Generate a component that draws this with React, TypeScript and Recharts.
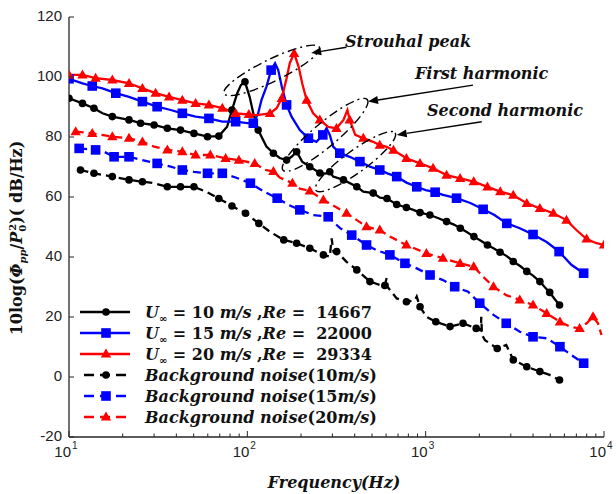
import React from "react";
import { LineChart, Line, XAxis, YAxis } from "recharts";

// Pressure spectra, [frequency (Hz), 10log(Φpp/P0²) (dB/Hz)]
const u10: [number, number][] = [
  [10, 92.9], [11.9, 91.2], [13.8, 89.6], [15.4, 87.9], [17.5, 86.8], [21.7, 85.7], [25.2, 84.6],
  [30, 84], [35.6, 82.9], [42.2, 82.3], [50.2, 81.2], [59.8, 80.1], [69.2, 80.3], [77, 83.4],
  [82, 89], [87.8, 94.6], [92, 97.3], [97, 98.4], [103, 93.4], [108, 87.9], [115, 82.3],
  [128, 76.8], [140, 74.6], [152, 73], [166, 72.3], [177, 73.4], [189, 75.1], [203, 71.8],
  [224, 70.1], [255, 68], [275, 67.8], [290, 68.4], [303, 66.8], [346, 65.7], [411, 63.4],
  [447, 61.8], [508, 61.3], [554, 59.8], [607, 59.5], [688, 57.5], [780, 56.5], [853, 55.7],
  [930, 54.8], [1056, 54], [1180, 52.9], [1310, 51.8], [1440, 50.8], [1565, 49.6], [1700, 48.3],
  [1864, 46.8], [2040, 45.4], [2221, 44], [2400, 42.9], [2614, 41.6], [2850, 40.3], [3100, 38.5],
  [3400, 36.9], [3690, 35.2], [4000, 33.8], [4370, 31.8], [4660, 29.9], [4960, 28.2], [5300, 25.9],
  [5630, 24],
];

const u15: [number, number][] = [
  [10, 99.4], [11.9, 97.9], [13.5, 97], [15.4, 96.2], [18.3, 94.6], [21.7, 93.4], [25.8, 91.8],
  [31.2, 90.1], [37.2, 89], [43.2, 87.9], [51.3, 86.8], [60.9, 86.2], [72.4, 85.1], [86, 85.1],
  [100, 84.6], [108, 84.6], [115, 87.9], [120, 92.3], [128, 96.8], [136, 102.3], [143, 104.6],
  [149, 102.3], [156, 96.8], [166, 90.7], [177, 86.8], [197, 82.3], [220, 79.6], [244, 78.4],
  [265, 80.7], [278, 82.9], [290, 80.7], [303, 76.8], [330, 74.6], [375, 73.4], [428, 71.8],
  [487, 70.1], [553, 69], [615, 67.8], [688, 66.8], [780, 64.8], [891, 63.4], [1000, 62.3],
  [1130, 61.6], [1250, 60.7], [1490, 59.6], [1780, 58], [2100, 55.9], [2430, 54], [2850, 51.2],
  [3370, 49.6], [4000, 47.5], [4770, 45], [5600, 41.8], [6560, 37.4], [7690, 34.6],
];

const u20: [number, number][] = [
  [10, 100.7], [11.9, 100.7], [14.1, 99.6], [17.5, 99], [21.7, 97.9], [25.8, 96.2], [30.6, 94.6],
  [36.4, 93.4], [43.2, 92.3], [51.3, 91.2], [60.9, 90.7], [72.4, 89.6], [86, 87.9], [102, 87.5],
  [113, 87.3], [134, 87.9], [146, 89.6], [156, 92.9], [166, 99.6], [173, 104.6], [183, 107.9],
  [194, 103.4], [203, 97.9], [215, 92.3], [234, 87.9], [255, 85.7], [284, 83.4], [316, 82.9],
  [346, 85.7], [364, 89], [375, 85.7], [403, 80.7], [447, 79.6], [507, 78.4], [553, 77.3],
  [600, 76.8], [660, 75.6], [780, 72.9], [930, 71.2], [1100, 69.6], [1310, 67.3], [1560, 66.2],
  [1860, 65.1], [2220, 63.4], [2620, 61.8], [3100, 60.6], [3690, 57.9], [4370, 56.2], [5200, 54.6],
  [6160, 52.3], [7000, 49], [7990, 46], [9080, 44.6], [10000, 44],
];

const bg10: [number, number][] = [
  [11.6, 69], [13.8, 67.9], [17.5, 66.8], [21.7, 65.7], [25.8, 65.1], [30, 64.6], [35.6, 63.4],
  [42.2, 63.4], [50.2, 63.4], [58.5, 61.8], [69.2, 59.5], [82, 57], [97.7, 54.6], [116, 51.2],
  [134, 48.4], [160, 45.7], [189, 44.6], [224, 42.9], [267, 40.7], [290, 40.1], [297, 46.2],
  [304, 41.8], [317, 41.8], [360, 38.4], [411, 35.7], [487, 31.8], [553, 30.7], [590, 30.5],
  [604, 33], [612, 30], [688, 26.2], [780, 25.1], [870, 25.6], [891, 26.8], [930, 23.4],
  [1010, 20.1], [1140, 18.4], [1370, 16.8], [1620, 17.9], [1920, 16.2], [2040, 15.5], [2050, 20.1],
  [2070, 14], [2150, 12.3], [2520, 9.5], [2830, 10.7], [3100, 5.7], [3690, 3.4], [4370, 1.8],
  [4960, 0.7], [5630, -1],
];

const bg15: [number, number][] = [
  [11.4, 76.2], [14.1, 75.7], [15.7, 75.1], [17.9, 73.4], [21.7, 73.4], [25.8, 72.3], [31.2, 71.2],
  [37.2, 70.1], [43.2, 69], [50.2, 68.4], [59.8, 67.9], [72.4, 67.9], [86, 66.5], [104, 64.6],
  [124, 61.8], [147, 59.6], [171, 57.3], [197, 55.7], [234, 54], [284, 53.4], [331, 49.6],
  [385, 47.3], [466, 44], [530, 42.3], [630, 40.7], [765, 37.9], [891, 36.2], [1058, 34],
  [1250, 32.3], [1455, 30.1], [1730, 28.4], [2010, 24.6], [2400, 20.7], [2830, 17.9], [3370, 15.1],
  [4000, 13.4], [4770, 12.9], [5660, 10.1], [6560, 7.3], [7690, 4.6],
];

const bg20: [number, number][] = [
  [10.9, 81.8], [13.5, 81.2], [17.5, 80.1], [21.7, 79.6], [25.8, 78.4], [30, 76.8], [35.6, 75.7],
  [43.2, 75.1], [51.3, 74], [62, 74], [75.6, 72.9], [89.7, 72.3], [110, 71.2], [126, 69],
  [140, 68.5], [152, 66.5], [179, 64.6], [197, 62.8], [224, 62], [267, 59], [360, 54.6],
  [466, 50.1], [553, 49], [630, 46.8], [780, 44], [1010, 41.2], [1250, 39.6], [1560, 37.9],
  [1860, 36.8], [2100, 33.4], [2400, 30.1], [2830, 27.3], [3370, 25.7], [4000, 24], [4770, 21.2],
  [5660, 18.4], [6430, 16.8], [7300, 16.2], [7990, 17.9], [8680, 20.1], [9250, 17.9], [9680, 14],
];

const decadeTicks = [10, 100, 1000, 10000];
const minorSteps = [2, 3, 4, 5, 6, 7, 8, 9];
const yTicks = [-20, 0, 20, 40, 60, 80, 100, 120];

const xTicks = decadeTicks.flatMap((d, i) =>
  i < decadeTicks.length - 1 ? [d, ...minorSteps.map((m) => d * m)] : [d]
);

// chart geometry (margins + axis sizes fix the plot box)
const W = 616;
const H = 494;
const MARGIN = { top: 17, right: 12, left: 0, bottom: 0 };
const Y_AXIS_W = 69;
const X_AXIS_H = 57;
const PLOT = {
  left: MARGIN.left + Y_AXIS_W,
  right: W - MARGIN.right,
  top: MARGIN.top,
  bottom: H - MARGIN.bottom - X_AXIS_H,
};
const F_DOMAIN: [number, number] = [10, 10000];
const DB_DOMAIN: [number, number] = [-20, 120];

const xPx = (f: number) =>
  PLOT.left +
  ((PLOT.right - PLOT.left) * (Math.log10(f) - Math.log10(F_DOMAIN[0]))) /
    (Math.log10(F_DOMAIN[1]) - Math.log10(F_DOMAIN[0]));
const yPx = (v: number) =>
  PLOT.top + ((PLOT.bottom - PLOT.top) * (DB_DOMAIN[1] - v)) / (DB_DOMAIN[1] - DB_DOMAIN[0]);

const AXIS = "#262626";
const SERIF = "'DejaVu Serif', serif";
const SANS = "'Liberation Sans', Arial, sans-serif";

type Shape = "circle" | "square" | "triangle";

function Marker({ shape, color, x, y }: { shape: Shape; color: string; x: number; y: number }) {
  if (shape === "circle") return <circle cx={x} cy={y} r={3.8} fill={color} />;
  if (shape === "square") return <rect x={x - 4.8} y={y - 4.8} width={9.6} height={9.6} fill={color} />;
  return <polygon points={`${x},${y - 5.4} ${x + 5.2},${y + 3.6} ${x - 5.2},${y + 3.6}`} fill={color} />;
}

// thin out markers so they sit roughly every `gap` px along x
function pickMarkers(data: [number, number][], gap: number) {
  const marks = new Set<number>();
  let last = -Infinity;
  data.forEach(([f], i) => {
    const px = xPx(f);
    if (px - last >= gap) {
      marks.add(i);
      last = px;
    }
  });
  return marks;
}

const series = [
  { id: "u10", data: u10, color: "#000000", shape: "circle" as Shape, dashed: false, gap: 9 },
  { id: "u15", data: u15, color: "#0000FF", shape: "square" as Shape, dashed: false, gap: 14 },
  { id: "u20", data: u20, color: "#FF0000", shape: "triangle" as Shape, dashed: false, gap: 11 },
  { id: "bg10", data: bg10, color: "#000000", shape: "circle" as Shape, dashed: true, gap: 12 },
  { id: "bg15", data: bg15, color: "#0000FF", shape: "square" as Shape, dashed: true, gap: 14 },
  { id: "bg20", data: bg20, color: "#FF0000", shape: "triangle" as Shape, dashed: true, gap: 13 },
];

const BottomTick = (p: any) => {
  const v = p.payload.value;
  const major = decadeTicks.includes(v);
  return (
    <g>
      <line x1={p.x} x2={p.x} y1={p.y} y2={p.y - (major ? 6 : 3.5)} stroke={AXIS} strokeWidth={1} />
      {major && (
        <text x={p.x + 2} y={p.y + 20} textAnchor="end" fontFamily={SANS} fontSize={15} fill="#222">
          10
        </text>
      )}
      {major && (
        <text x={p.x + 3} y={p.y + 12} fontFamily={SANS} fontSize={10} fill="#222">
          {Math.round(Math.log10(v))}
        </text>
      )}
    </g>
  );
};

const TopTick = (p: any) => {
  const major = decadeTicks.includes(p.payload.value);
  return <line x1={p.x} x2={p.x} y1={p.y} y2={p.y + (major ? 6 : 3.5)} stroke={AXIS} strokeWidth={1} />;
};

const LeftTick = (p: any) => (
  <g>
    <line x1={p.x} x2={p.x + 5} y1={p.y} y2={p.y} stroke={AXIS} strokeWidth={1} />
    <text x={p.x - 7} y={p.y + 4} textAnchor="end" fontFamily={SANS} fontSize={15} fill="#222">
      {p.payload.value}
    </text>
  </g>
);

const RightTick = (p: any) => (
  <line x1={p.x} x2={p.x - 5} y1={p.y} y2={p.y} stroke={AXIS} strokeWidth={1} />
);

// legend rows
const legendRows = [
  { id: "u10", speed: "10", re: "14667" },
  { id: "u15", speed: "15", re: "22000" },
  { id: "u20", speed: "20", re: "29334" },
  { id: "bg10", speed: "10" },
  { id: "bg15", speed: "15" },
  { id: "bg20", speed: "20" },
];

// callouts in data coordinates: [Hz, dB]
const callouts = [
  {
    text: "Strouhal peak",
    at: [353, 110], tail: [360, 109.9], tip: [228, 108],
    ring: { c: [137, 102.2], rx: 53, ry: 11, angle: -26 },
  },
  {
    text: "First harmonic",
    at: [871, 99.3], tail: [1843, 97.3], tip: [475, 91.8],
    ring: { c: [273, 80.7], rx: 55, ry: 12, angle: -40 },
  },
  {
    text: "Second harmonic",
    at: [1018, 87], tail: [2062, 85.1], tip: [688, 80.7],
    ring: { c: [404, 71.8], rx: 49, ry: 11, angle: -36 },
  },
];

function Arrow({ x1, y1, x2, y2 }: { x1: number; y1: number; x2: number; y2: number }) {
  const a = Math.atan2(y2 - y1, x2 - x1);
  const len = 10;
  const half = 4;
  const bx = x2 - len * Math.cos(a);
  const by = y2 - len * Math.sin(a);
  const nx = -Math.sin(a) * half;
  const ny = Math.cos(a) * half;
  return (
    <g>
      <line x1={x1} y1={y1} x2={bx} y2={by} stroke="#000" strokeWidth={1.4} />
      <polygon points={`${x2},${y2} ${bx + nx},${by + ny} ${bx - nx},${by - ny}`} fill="#000" />
    </g>
  );
}

function Overlay() {
  const rowY0 = 312;
  const rowStep = 21;
  return (
    <svg
      width={W}
      height={H}
      style={{ position: "absolute", left: 0, top: 0, pointerEvents: "none" }}
    >
      {/* y axis title */}
      <text
        transform={`translate(22, 238) rotate(-90)`}
        textAnchor="middle"
        fontFamily={SERIF}
        fontWeight="bold"
        fontSize={16}
        fill="#111"
        style={{ whiteSpace: "pre" }}
      >
        <tspan>10log</tspan>
        <tspan>(</tspan>
        <tspan fontStyle="italic">Φ</tspan>
        <tspan fontStyle="italic" fontSize={10} dy={4}>pp</tspan>
        <tspan dy={-4}>/</tspan>
        <tspan fontStyle="italic">P</tspan>
        <tspan fontSize={10} dy={4}>0</tspan>
        <tspan fontSize={10} dx={-6} dy={-10}>2</tspan>
        <tspan dy={6}>)( dB/Hz)</tspan>
      </text>

      {/* x axis title */}
      <text
        x={334}
        y={488}
        textAnchor="middle"
        fontFamily={SERIF}
        fontWeight="bold"
        fontStyle="italic"
        fontSize={16}
        fill="#111"
      >
        Frequency(Hz)
      </text>

      {/* callouts */}
      {callouts.map((c) => {
        const cx = xPx(c.ring.c[0]);
        const cy = yPx(c.ring.c[1]);
        return (
          <g key={c.text}>
            <ellipse
              cx={cx}
              cy={cy}
              rx={c.ring.rx}
              ry={c.ring.ry}
              transform={`rotate(${c.ring.angle} ${cx} ${cy})`}
              fill="none"
              stroke="#000"
              strokeWidth={1.4}
              strokeDasharray="9 4 2 4"
            />
            <Arrow x1={xPx(c.tail[0])} y1={yPx(c.tail[1])} x2={xPx(c.tip[0])} y2={yPx(c.tip[1])} />
            <text
              x={xPx(c.at[0])}
              y={yPx(c.at[1])}
              fontFamily={SERIF}
              fontWeight="bold"
              fontStyle="italic"
              fontSize={16}
              fill="#111"
            >
              {c.text}
            </text>
          </g>
        );
      })}

      {/* legend */}
      {legendRows.map((row, i) => {
        const s = series.find((q) => q.id === row.id)!;
        const y = rowY0 + i * rowStep;
        return (
          <g key={row.id}>
            <line
              x1={s.dashed ? 84 : 80}
              x2={130}
              y1={y}
              y2={y}
              stroke={s.color}
              strokeWidth={2.4}
              strokeDasharray={s.dashed ? "10 6" : undefined}
            />
            <Marker shape={s.shape} color={s.color} x={106} y={y} />
            <text
              x={145}
              y={y + 6}
              fontFamily={SERIF}
              fontWeight="bold"
              fontSize={16}
              fill="#111"
              style={{ whiteSpace: "pre" }}
            >
              {row.re ? (
                <>
                  <tspan fontStyle="italic">U</tspan>
                  <tspan fontSize={10} dy={4}>∞</tspan>
                  <tspan dy={-4}>{` = ${row.speed} `}</tspan>
                  <tspan fontStyle="italic">m/s</tspan>
                  <tspan>{" ,"}</tspan>
                  <tspan fontStyle="italic">Re</tspan>
                  <tspan>{` =  ${row.re}`}</tspan>
                </>
              ) : (
                <>
                  <tspan fontStyle="italic">Background noise</tspan>
                  <tspan>{`(${row.speed}`}</tspan>
                  <tspan fontStyle="italic">m/s</tspan>
                  <tspan>)</tspan>
                </>
              )}
            </text>
          </g>
        );
      })}
    </svg>
  );
}

export default function App() {
  return (
    <div style={{ position: "absolute", left: 0, top: 0, width: W, height: H, background: "#fff" }}>
      <LineChart width={W} height={H} margin={MARGIN}>
        <XAxis
          xAxisId="bottom"
          dataKey="f"
          type="number"
          scale="log"
          domain={F_DOMAIN}
          allowDataOverflow
          ticks={xTicks}
          interval={0}
          height={X_AXIS_H}
          tickSize={0}
          tickMargin={0}
          tick={BottomTick}
          axisLine={{ stroke: AXIS, strokeWidth: 1.3 }}
        />
        <XAxis
          xAxisId="top"
          orientation="top"
          dataKey="f"
          type="number"
          scale="log"
          domain={F_DOMAIN}
          allowDataOverflow
          ticks={xTicks}
          interval={0}
          height={0}
          tickSize={0}
          tickMargin={0}
          tick={TopTick}
          axisLine={{ stroke: AXIS, strokeWidth: 1.3 }}
        />
        <YAxis
          yAxisId="left"
          type="number"
          domain={DB_DOMAIN}
          ticks={yTicks}
          interval={0}
          width={Y_AXIS_W}
          tickSize={0}
          tickMargin={0}
          tick={LeftTick}
          axisLine={{ stroke: AXIS, strokeWidth: 1.3 }}
        />
        <YAxis
          yAxisId="right"
          orientation="right"
          type="number"
          domain={DB_DOMAIN}
          ticks={yTicks}
          interval={0}
          width={0}
          tickSize={0}
          tickMargin={0}
          tick={RightTick}
          axisLine={{ stroke: AXIS, strokeWidth: 1.3 }}
        />
        {series.map((s) => {
          const rows = s.data.map(([f, v]) => ({ f, v }));
          const marks = pickMarkers(s.data, s.gap);
          return (
            <Line
              key={s.id}
              xAxisId="bottom"
              yAxisId="left"
              data={rows}
              dataKey="v"
              type="linear"
              stroke={s.color}
              strokeWidth={2.3}
              strokeDasharray={s.dashed ? "8 5" : undefined}
              activeDot={false}
              isAnimationActive={false}
              dot={(p: any) =>
                marks.has(p.index) && p.cx != null ? (
                  <Marker key={`${s.id}-${p.index}`} shape={s.shape} color={s.color} x={p.cx} y={p.cy} />
                ) : (
                  <g key={`${s.id}-${p.index}`} />
                )
              }
            />
          );
        })}
      </LineChart>
      <Overlay />
    </div>
  );
}
